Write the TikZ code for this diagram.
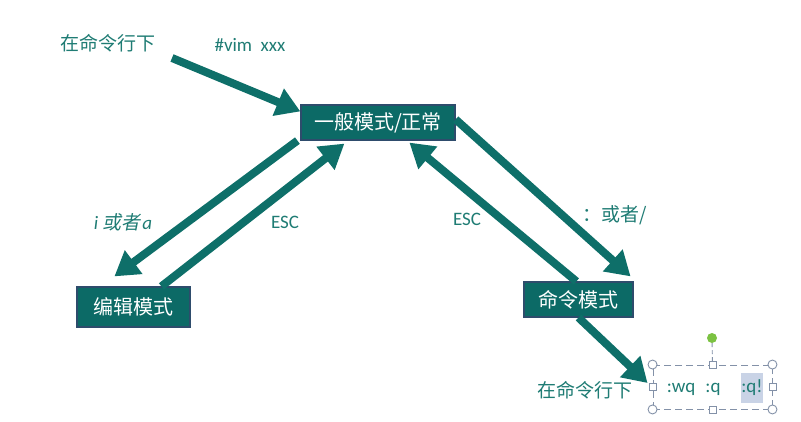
\documentclass[tikz,border=0pt]{standalone}
\usepackage{fontspec}
\setmainfont{Carlito}
\newfontfamily\cjk{Noto Sans CJK SC}
\newfontfamily\cjkslant{Noto Sans CJK SC}[FakeSlant=0.2]
\usetikzlibrary{arrows.meta}
\definecolor{boxfill}{HTML}{0C6A66}
\definecolor{boxedge}{HTML}{2E4C6C}
\definecolor{flowcol}{HTML}{0E6F69}
\definecolor{notecol}{HTML}{1F7C74}
\definecolor{selcol}{HTML}{8391A8}
\definecolor{hlcol}{HTML}{C9D3E6}
\definecolor{dotcol}{HTML}{7CC242}
\tikzstyle{mode}=[draw=boxedge, fill=boxfill, line width=1.2pt, text=white, inner sep=0pt, font=\cjk\fontsize{20}{24}\selectfont]
\tikzstyle{note}=[text=notecol, inner sep=0pt, font=\fontsize{19}{23}\selectfont]
\tikzstyle{cjknote}=[text=notecol, inner sep=0pt, font=\cjk\fontsize{19}{23}\selectfont]
\tikzstyle{flow}=[draw=flowcol, line width=8pt, -{Triangle[length=24pt,width=28pt]}]
\tikzstyle{knob}=[draw=selcol, fill=white, line width=0.9pt, minimum size=7pt, inner sep=0pt]

\begin{document}
\begin{tikzpicture}[x=1pt, y=-1pt]
                    \useasboundingbox (0,0) rectangle (801,422);
                    \node[mode, minimum width=154pt, minimum height=35pt] (norm) at (378,122.5) {一般模式/正常};
                    \node[mode, minimum width=113pt, minimum height=40pt] (edit) at (133.5,307) {编辑模式};
                    \node[mode, minimum width=109pt, minimum height=35pt] (cmd)  at (578.5,299.5) {命令模式};
                    \node[cjknote] (top)  at (108,43) {在命令行下};
                    \node[note]    (vim)  at (250,45) {\#vim\ \ xxx};
                    \node[note]    (ia)   at (123,222) {\itshape i {\cjkslant 或者}\kern2pt a};
                    \node[note]    (esc1) at (285,222) {ESC};
                    \node[note]    (esc2) at (467,219) {ESC};
                    \node[cjknote] (colon) at (615,215) {：或者/};
                    \node[cjknote] (bot)  at (585,390) {在命令行下};
                    % selection box
                    \node[draw=selcol, line width=0.9pt, dash pattern=on 7pt off 4pt, minimum width=119pt, minimum height=44pt] (sel) at (712.5,387) {};
                    \coordinate (s0) at (172,58);
                    \draw[flow] (s0) -- ([yshift=-7pt]norm.north west);
                    \draw[flow] ([xshift=-3pt]norm.south west) -- ([xshift=38pt,yshift=10pt]edit.north west);
                    \draw[flow] ([xshift=85pt]edit.north west) -- ([xshift=44pt,yshift=-3pt]norm.south west);
                    \draw[flow] ([xshift=53pt]cmd.north west) -- ([xshift=109pt,yshift=-2pt]norm.south west);
                    \draw[flow] ([yshift=-15pt]norm.north east) -- ([xshift=-3pt,yshift=5pt]cmd.north east);
                    \draw[flow] (cmd.south) -- ([xshift=-5pt,yshift=4pt]sel.west);
                    \node[note, fill=hlcol, minimum width=22pt, minimum height=30pt] (qq) at (752,388) {:q!};
                    \node[note] (wq) at (681,389) {:wq};
                    \node[note] (q)  at (713,389) {:q};
                    \node[circle, fill=dotcol, minimum size=10pt, inner sep=0pt] (rot) at (712,338) {};
                    \draw[selcol, line width=0.9pt, dash pattern=on 4pt off 3pt] (rot) -- (sel.north);
                    \foreach \p in {north west, north east, south west, south east}
                        \node[knob, circle, minimum size=9pt] at (sel.\p) {};
                    \foreach \p in {north, south, west, east}
                        \node[knob] at (sel.\p) {};
                \end{tikzpicture}
\end{document}
